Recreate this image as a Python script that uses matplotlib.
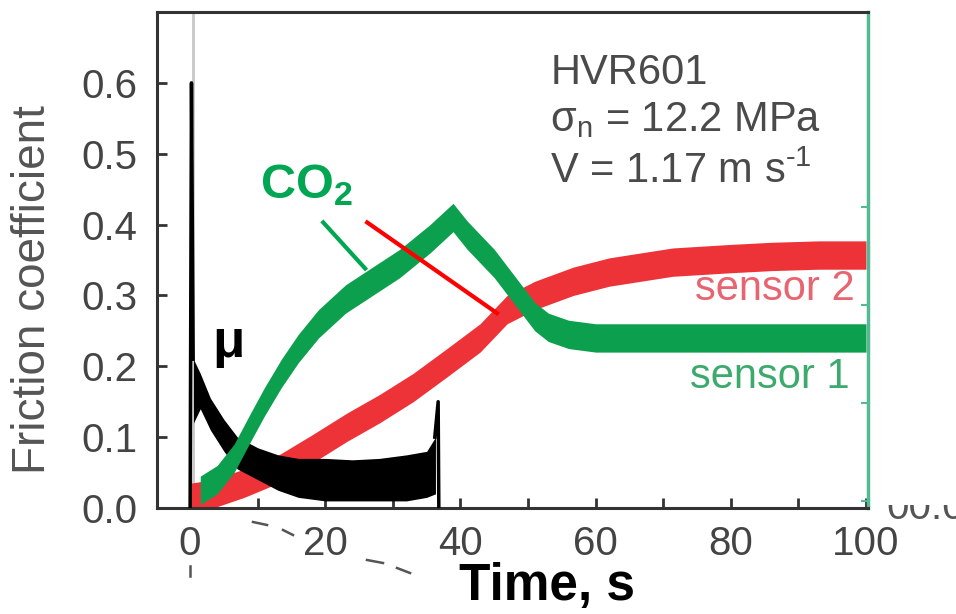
import matplotlib.pyplot as plt
from matplotlib.lines import Line2D
from matplotlib.patches import Rectangle

plt.rcParams['font.family'] = ['Liberation Sans', 'DejaVu Sans']
plt.rcParams['mathtext.fontset'] = 'custom'
plt.rcParams['mathtext.rm'] = 'Liberation Sans'
plt.rcParams['mathtext.it'] = 'Liberation Sans:italic'
plt.rcParams['mathtext.bf'] = 'Liberation Sans:bold'

# friction coefficient (mu), noisy band read as lower / upper edge
mu_t = [0.5, 1.5, 3, 5, 7, 10, 13, 16, 20, 24, 28, 32, 35, 36.3]
mu_lo = [0.12, 0.14, 0.11, 0.08, 0.055, 0.04, 0.025, 0.015, 0.01, 0.01, 0.01, 0.01, 0.015, 0.02]
mu_hi = [0.21, 0.19, 0.155, 0.125, 0.10, 0.085, 0.075, 0.07, 0.07, 0.068, 0.07, 0.075, 0.08, 0.10]
spike_t = [0.0, 0.2, 0.45]
spike_mu = [0.0, 0.6, 0.21]
stop_t = [36.2, 36.7, 36.8]
stop_mu = [0.10, 0.15, 0.0]

# sensor 1 (green), centre of noisy band
s1_t = [1.5, 4, 6.5, 9, 11, 13.5, 16, 19, 23, 27, 31, 35.5, 38.9, 41, 43, 45, 47,
        49, 51, 53, 56, 60, 70, 80, 90, 100]
s1_v = [0.025, 0.04, 0.07, 0.115, 0.15, 0.19, 0.225, 0.26, 0.295, 0.32, 0.345,
        0.38, 0.41, 0.385, 0.365, 0.345, 0.32, 0.295, 0.27, 0.255, 0.245, 0.24,
        0.24, 0.24, 0.24, 0.24]

# sensor 2 (red), centre of noisy band
s2_t = [0, 3.4, 8, 13.3, 18, 23.2, 28, 33, 38, 42.9, 46.9, 51, 56.7, 62, 71.4, 80, 86, 93, 100]
s2_v = [0.015, 0.02, 0.035, 0.056, 0.083, 0.114, 0.14, 0.17, 0.205, 0.24, 0.28, 0.30,
        0.32, 0.333, 0.347, 0.352, 0.355, 0.357, 0.357]
band = 0.02

x_ticks = [0, 20, 40, 60, 80, 100]
y_ticks = [0.0, 0.1, 0.2, 0.3, 0.4, 0.5, 0.6]

green = '#0ca04e'
red = '#ee3338'
grey = '#444444'

fig = plt.figure(figsize=(9.56, 6.14), dpi=100)
ax = fig.add_axes([157 / 956, 106 / 614, 711 / 956, 496 / 614])

ax.axvline(0.45, color='#c8c8c8', lw=2, zorder=1)
ax.fill_between(s2_t, [v - band for v in s2_v], [v + band for v in s2_v],
                color=red, lw=0, zorder=2)
ax.fill_between(mu_t, mu_lo, mu_hi, color='black', lw=0, zorder=3)
ax.plot(spike_t, spike_mu, color='black', lw=2.5, zorder=3)
ax.plot(stop_t, stop_mu, color='black', lw=2.5, zorder=3)
ax.fill_between(s1_t, [v - band for v in s1_v], [v + band for v in s1_v],
                color=green, lw=0, zorder=4)

# leader lines for the CO2 label
ax.plot([19.7, 25.9], [0.403, 0.338], color='#00a651', lw=3, zorder=5)
ax.plot([26.2, 45.4], [0.403, 0.275], color='#ff0000', lw=3, zorder=5)

ax.set_xlim(-4.9, 100.3)
ax.set_ylim(0, 0.7)
ax.set_xticks(x_ticks)
ax.set_xticks(range(10, 100, 20), minor=True)
ax.set_yticks(y_ticks)
ax.set_yticklabels(['%.1f' % v for v in y_ticks])
ax.tick_params(which='both', direction='in', length=7, width=2, color='#333333',
               labelsize=29, labelcolor=grey, top=False, right=False)
ax.tick_params(axis='y', pad=14)
ax.tick_params(axis='x', pad=12)
for s in ['left', 'bottom', 'top']:
    ax.spines[s].set_linewidth(2.2)
    ax.spines[s].set_color('#333333')
ax.spines['right'].set_color('#55b994')
ax.spines['right'].set_linewidth(2.5)

ax2 = ax.twinx()
ax2.set_ylim(-0.07, 4.99)
ax2.set_yticks([0, 1, 2, 3])
ax2.set_yticklabels([])
ax2.tick_params(direction='in', length=5, width=1.5, color='#55b994')
for s in ax2.spines.values():
    s.set_visible(False)

ax.text(53.3, 0.599, 'HVR601', fontsize=30, color='#4a4a4a', va='baseline')
ax.text(53.3, 0.532, r'$\mathregular{\sigma_n}$ = 12.2 MPa', fontsize=30, color='#4a4a4a', va='baseline')
ax.text(53.3, 0.458, r'V = 1.17 m s$^{\text{-1}}$', fontsize=30, color='#4a4a4a', va='baseline')
ax.text(10.4, 0.437, r'$\mathbf{CO_2}$', fontsize=35, color='#00a651', va='baseline', zorder=6)
ax.text(3.3, 0.213, 'μ', fontsize=38, color='black', fontweight='bold', va='baseline')
ax.text(98.4, 0.293, 'sensor 2', fontsize=30, color='#e86470', ha='right', va='baseline', zorder=6)
ax.text(97.6, 0.169, 'sensor 1', fontsize=30, color='#3daa6d', ha='right', va='baseline', zorder=6)

fig.text(547 / 956, 14 / 614, 'Time, s', fontsize=37, fontweight='bold', ha='center', va='baseline')
fig.text(33 / 956, 0.528, 'Friction coefficient', fontsize=33, color='#555555',
         rotation=90, ha='center', va='center')

# cut-off tick label of a neighbouring panel, only its lower part shows
clip = Rectangle((880 / 956, 0), 76 / 956, (614 - 505) / 614, transform=fig.transFigure)
t = fig.text(886 / 956, (614 - 519) / 614, '00.0', fontsize=29, color='#555555', va='baseline')
t.set_clip_path(clip)

# stray dashed marks below the axis
marks = [((253, 522), (267, 525)), ((283, 530), (293, 535)), ((367, 560), (383, 563)),
         ((397, 568), (410, 573)), ((190, 566), (190, 576))]
for (x0, y0), (x1, y1) in marks:
    fig.add_artist(Line2D([x0 / 956, x1 / 956], [1 - y0 / 614, 1 - y1 / 614],
                          color='#555555', lw=1.8, transform=fig.transFigure))

fig.savefig('out.png', dpi=100)
